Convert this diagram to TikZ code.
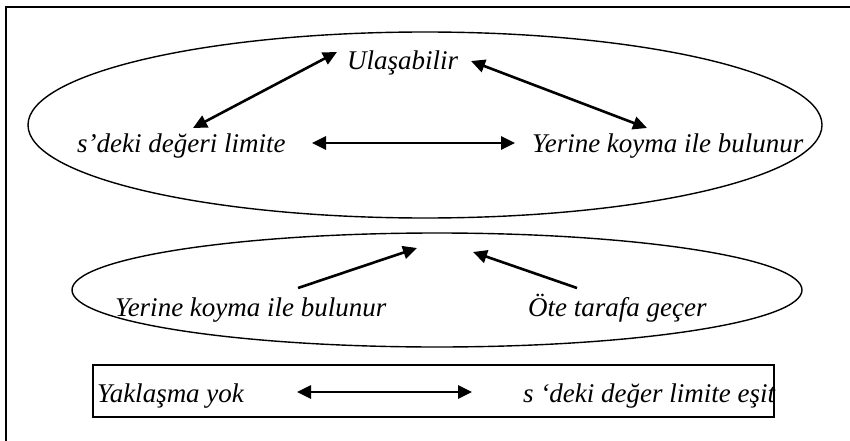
\documentclass[tikz,border=0pt]{standalone}
\usepackage{fontspec}
\setmainfont{Liberation Serif}
\usetikzlibrary{arrows.meta}
\tikzset{
  lbl/.style={font=\fontsize{27}{32}\selectfont\itshape, inner sep=0pt, anchor=base west},
  oval/.style={draw, line width=1.4pt},
  conn/.style={line width=2.6pt, arrows={Triangle[length=14pt,width=13pt]-Triangle[length=14pt,width=13pt]}},
  oneway/.style={line width=2.6pt, -{Triangle[length=14pt,width=13pt]}},
}
\begin{document}
\begin{tikzpicture}[x=1pt,y=-1pt]
\useasboundingbox (0,0) rectangle (850,441);
% frame (top and left edges)
\draw[line width=2.2pt] (6,441) -- (6,7) -- (850,7);
% upper oval
\draw[oval] (425,125) ellipse [x radius=397, y radius=93];
\node[lbl] (ula) at (347,70) {Ulaşabilir};
\node[lbl] (sdeg) at (77,152) {s’deki değeri limite};
\node[lbl] (yer1) at (532,152) {Yerine koyma ile bulunur};
\coordinate (a1) at (193,128); \coordinate (a2) at (337,52);
\coordinate (b1) at (471,61);  \coordinate (b2) at (647,128);
\coordinate (c1) at (312,143); \coordinate (c2) at (515,143);
\draw[conn] (a1) -- (a2);
\draw[conn] (b1) -- (b2);
\draw[conn] (c1) -- (c2);
% lower oval
\draw[oval] (437,290) ellipse [x radius=365, y radius=57];
\node[lbl] (yer2) at (115,316) {Yerine koyma ile bulunur};
\node[lbl] (ote) at (528,316) {Öte tarafa geçer};
\coordinate (d1) at (298,288); \coordinate (d2) at (417,248);
\coordinate (e1) at (577,288); \coordinate (e2) at (473,252);
\draw[oneway] (d1) -- (d2);
\draw[oneway] (e1) -- (e2);
% bottom box
\draw[line width=1.6pt] (93,365) rectangle (774,417);
\node[lbl] (yak) at (97,402) {Yaklaşma yok};
\node[lbl] (esit) at (523,402) {s ‘deki değer limite eşit};
\coordinate (f1) at (297,392); \coordinate (f2) at (472,392);
\draw[conn] (f1) -- (f2);
\end{tikzpicture}
\end{document}
